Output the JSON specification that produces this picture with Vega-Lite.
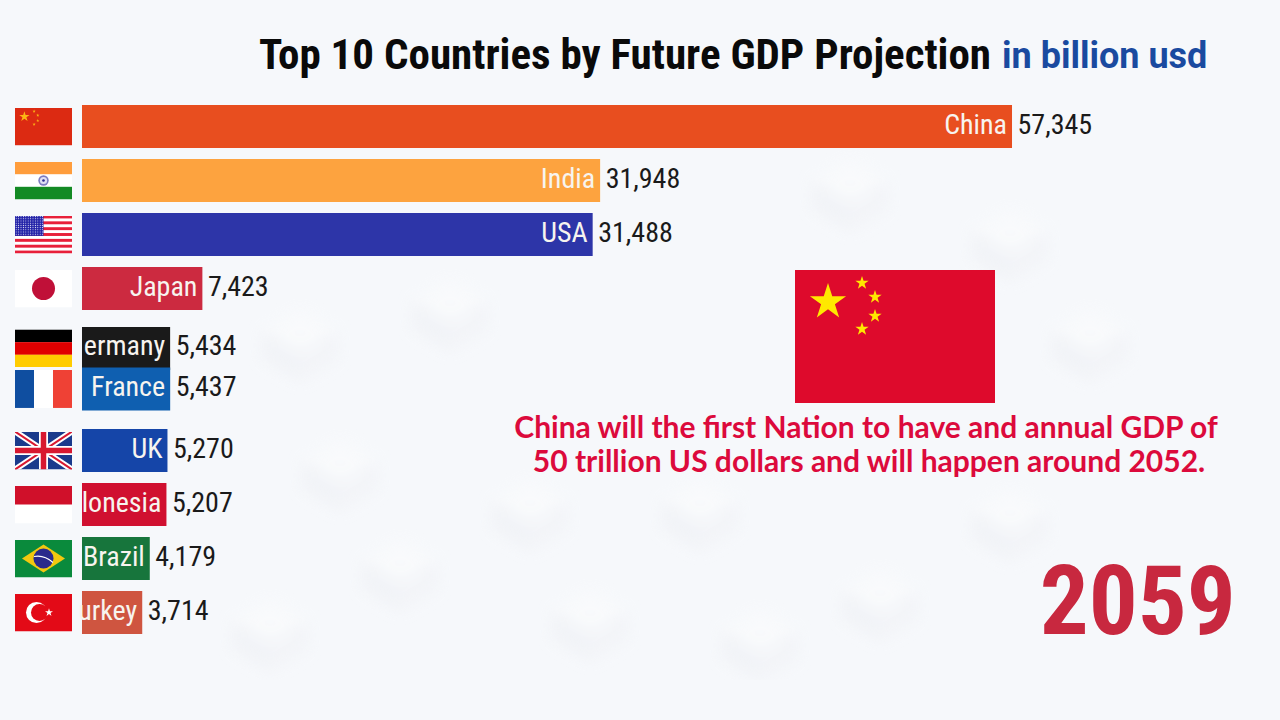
{"$schema":"https://vega.github.io/schema/vega-lite/v6.json","width":1280,"height":720,"padding":0,"autosize":{"type":"fit","contains":"padding"},"background":"#f6f8fb","config":{"view":{"stroke":null}},
"datasets":{"rows":[
{"country":"China","label":"China","value":57345,"rank":1,"flag":"data:image/svg+xml,%3Csvg xmlns='http://www.w3.org/2000/svg' width='57' height='38' viewBox='0 0 200 133'%3E%3Crect width='200' height='133' fill='%23dc2a12'/%3E%3Cg fill='%23fcb514'%3E%3Cpath transform='translate(33 32) scale(19)' d='M0-1 .2245-.309 .951-.309 .363.118 .588.809 0 .382-.588.809-.363.118-.951-.309-.2245-.309Z'/%3E%3Cpath transform='translate(67 13) scale(6)' d='M0-1 .2245-.309 .951-.309 .363.118 .588.809 0 .382-.588.809-.363.118-.951-.309-.2245-.309Z'/%3E%3Cpath transform='translate(80 27) scale(6)' d='M0-1 .2245-.309 .951-.309 .363.118 .588.809 0 .382-.588.809-.363.118-.951-.309-.2245-.309Z'/%3E%3Cpath transform='translate(80 46) scale(6)' d='M0-1 .2245-.309 .951-.309 .363.118 .588.809 0 .382-.588.809-.363.118-.951-.309-.2245-.309Z'/%3E%3Cpath transform='translate(67 59) scale(6)' d='M0-1 .2245-.309 .951-.309 .363.118 .588.809 0 .382-.588.809-.363.118-.951-.309-.2245-.309Z'/%3E%3C/g%3E%3C/svg%3E"},
{"country":"India","label":"India","value":31948,"rank":2,"flag":"data:image/svg+xml,%3Csvg xmlns='http://www.w3.org/2000/svg' width='57' height='38' viewBox='0 0 57 38'%3E%3Crect width='57' height='38' fill='%23fff'/%3E%3Crect width='57' height='12.7' fill='%23ff9d3c'/%3E%3Crect y='25.3' width='57' height='12.7' fill='%23138a24'/%3E%3Ccircle cx='28.5' cy='19' r='5.2' fill='%237c7cc0'/%3E%3Ccircle cx='28.5' cy='19' r='3.6' fill='%23dfe0f4'/%3E%3Ccircle cx='28.5' cy='19' r='1.3' fill='%232a2a90'/%3E%3C/svg%3E"},
{"country":"USA","label":"USA","value":31488,"rank":3,"flag":"data:image/svg+xml,%3Csvg xmlns='http://www.w3.org/2000/svg' width='57' height='38' viewBox='0 0 57 38'%3E%3Cdefs%3E%3Cpattern id='p' width='2.4' height='2.2' patternUnits='userSpaceOnUse'%3E%3Ccircle cx='1.2' cy='1.1' r='.55' fill='%23fff'/%3E%3C/pattern%3E%3C/defs%3E%3Crect width='57' height='38' fill='%23fff'/%3E%3Cg fill='%23e8203a'%3E%3Crect width='57' height='2.92'/%3E%3Crect y='5.85' width='57' height='2.92'/%3E%3Crect y='11.7' width='57' height='2.92'/%3E%3Crect y='17.54' width='57' height='2.92'/%3E%3Crect y='23.38' width='57' height='2.92'/%3E%3Crect y='29.23' width='57' height='2.92'/%3E%3Crect y='35.08' width='57' height='2.92'/%3E%3C/g%3E%3Crect width='28.5' height='20.4' fill='%232222a8'/%3E%3Crect width='28.5' height='20.4' fill='url(%23p)'/%3E%3C/svg%3E"},
{"country":"Japan","label":"Japan","value":7423,"rank":4,"flag":"data:image/svg+xml,%3Csvg xmlns='http://www.w3.org/2000/svg' width='57' height='38' viewBox='0 0 57 38'%3E%3Crect width='57' height='38' fill='%23fff'/%3E%3Ccircle cx='28.5' cy='19' r='11.5' fill='%23c01038'/%3E%3C/svg%3E"},
{"country":"Germany","label":"ermany","value":5434,"rank":5.11,"flag":"data:image/svg+xml,%3Csvg xmlns='http://www.w3.org/2000/svg' width='57' height='38' viewBox='0 0 57 38'%3E%3Crect width='57' height='12.7' fill='%23000'/%3E%3Crect y='12.7' width='57' height='12.7' fill='%23e00000'/%3E%3Crect y='25.3' width='57' height='12.7' fill='%23ffcc00'/%3E%3C/svg%3E"},
{"country":"France","label":"France","value":5437,"rank":5.86,"flag":"data:image/svg+xml,%3Csvg xmlns='http://www.w3.org/2000/svg' width='57' height='38' viewBox='0 0 57 38'%3E%3Crect width='57' height='38' fill='%23fff'/%3E%3Crect width='19' height='38' fill='%230f4ea0'/%3E%3Crect x='38' width='19' height='38' fill='%23ef4135'/%3E%3C/svg%3E"},
{"country":"UK","label":"UK","value":5270,"rank":7,"flag":"data:image/svg+xml,%3Csvg xmlns='http://www.w3.org/2000/svg' width='57' height='38' viewBox='0 0 57 38'%3E%3Crect width='57' height='38' fill='%231a3a8c'/%3E%3Cpath d='M0 0 57 38M57 0 0 38' stroke='%23fff' stroke-width='6'/%3E%3Cpath d='M0 0 57 38M57 0 0 38' stroke='%23d81830' stroke-width='2'/%3E%3Cpath d='M28.5 0V38M0 19H57' stroke='%23fff' stroke-width='9'/%3E%3Cpath d='M28.5 0V38M0 19H57' stroke='%23d81830' stroke-width='5.5'/%3E%3C/svg%3E"},
{"country":"Indonesia","label":"lonesia","value":5207,"rank":8,"flag":"data:image/svg+xml,%3Csvg xmlns='http://www.w3.org/2000/svg' width='57' height='38' viewBox='0 0 57 38'%3E%3Crect width='57' height='38' fill='%23fff'/%3E%3Crect width='57' height='19' fill='%23d0102a'/%3E%3C/svg%3E"},
{"country":"Brazil","label":"Brazil","value":4179,"rank":9,"flag":"data:image/svg+xml,%3Csvg xmlns='http://www.w3.org/2000/svg' width='57' height='38' viewBox='0 0 57 38'%3E%3Crect width='57' height='38' fill='%230a8a3c'/%3E%3Cpath d='M7 19 28.5 5 50 19 28.5 33Z' fill='%23f2c80f'/%3E%3Ccircle cx='28.5' cy='19' r='10' fill='%232a2a8c'/%3E%3Cpath d='M19 17Q29 15 38 23' stroke='%23fff' stroke-width='1.2' fill='none'/%3E%3C/svg%3E"},
{"country":"Turkey","label":"urkey","value":3714,"rank":10,"flag":"data:image/svg+xml,%3Csvg xmlns='http://www.w3.org/2000/svg' width='57' height='38' viewBox='0 0 57 38'%3E%3Crect width='57' height='38' fill='%23e30a17'/%3E%3Ccircle cx='21.5' cy='19' r='10.5' fill='%23fff'/%3E%3Ccircle cx='24.5' cy='19' r='8.5' fill='%23e30a17'/%3E%3Cpath transform='translate(34 19) scale(4.2)' fill='%23fff' d='M0-1 .2245-.309 .951-.309 .363.118 .588.809 0 .382-.588.809-.363.118-.951-.309-.2245-.309Z'/%3E%3C/svg%3E"}
],"bigflag":[{"name":"China","flag":"data:image/svg+xml,%3Csvg xmlns='http://www.w3.org/2000/svg' width='200' height='133' viewBox='0 0 200 133'%3E%3Crect width='200' height='133' fill='%23de0a2c'/%3E%3Cg fill='%23ffe800'%3E%3Cpath transform='translate(33 32) scale(19)' d='M0-1 .2245-.309 .951-.309 .363.118 .588.809 0 .382-.588.809-.363.118-.951-.309-.2245-.309Z'/%3E%3Cpath transform='translate(67 13) scale(7)' d='M0-1 .2245-.309 .951-.309 .363.118 .588.809 0 .382-.588.809-.363.118-.951-.309-.2245-.309Z'/%3E%3Cpath transform='translate(80 27) scale(7)' d='M0-1 .2245-.309 .951-.309 .363.118 .588.809 0 .382-.588.809-.363.118-.951-.309-.2245-.309Z'/%3E%3Cpath transform='translate(80 46) scale(7)' d='M0-1 .2245-.309 .951-.309 .363.118 .588.809 0 .382-.588.809-.363.118-.951-.309-.2245-.309Z'/%3E%3Cpath transform='translate(67 59) scale(7)' d='M0-1 .2245-.309 .951-.309 .363.118 .588.809 0 .382-.588.809-.363.118-.951-.309-.2245-.309Z'/%3E%3C/g%3E%3C/svg%3E"}],
"backdrop":[{"name":"isometric blocks","img":"data:image/svg+xml,%3Csvg xmlns='http://www.w3.org/2000/svg' xmlns:xlink='http://www.w3.org/1999/xlink' width='1200' height='640' viewBox='40 40 1200 640'%3E%3Cdefs%3E%3Cfilter id='f'%3E%3CfeGaussianBlur stdDeviation='7'/%3E%3C/filter%3E%3Cg id='b'%3E%3Cpath d='M0-22 38 0 0 22-38 0Z' fill='%23fbfcfd'/%3E%3Cpath d='M-38 0 0 22V52L-38 30Z' fill='%23eef0f4'/%3E%3Cpath d='M38 0 0 22V52L38 30Z' fill='%23f1f2f6'/%3E%3C/g%3E%3C/defs%3E%3Cg filter='url(%23f)'%3E%3Cuse xlink:href='%23b' x='300' y='330'/%3E%3Cuse xlink:href='%23b' x='340' y='460'/%3E%3Cuse xlink:href='%23b' x='270' y='620'/%3E%3Cuse xlink:href='%23b' x='400' y='560'/%3E%3Cuse xlink:href='%23b' x='530' y='500'/%3E%3Cuse xlink:href='%23b' x='700' y='500'/%3E%3Cuse xlink:href='%23b' x='1010' y='510'/%3E%3Cuse xlink:href='%23b' x='1090' y='330'/%3E%3Cuse xlink:href='%23b' x='850' y='180'/%3E%3Cuse xlink:href='%23b' x='1010' y='230'/%3E%3Cuse xlink:href='%23b' x='590' y='610'/%3E%3Cuse xlink:href='%23b' x='760' y='630'/%3E%3Cuse xlink:href='%23b' x='880' y='590'/%3E%3Cuse xlink:href='%23b' x='450' y='300'/%3E%3C/g%3E%3C/svg%3E"}]},
"data":{"name":"rows"},
"layer":[
{"data":{"name":"backdrop"},"mark":{"type":"image","width":1200,"height":640,"align":"center","baseline":"middle","aspect":false,"opacity":0.55},"encoding":{"x":{"datum":34406,"type":"quantitative","scale":{"domain":[-5056,73869],"zero":false,"nice":false},"axis":null},"y":{"datum":5.324,"type":"quantitative","scale":{"domain":[-1.3426,11.9907],"reverse":true,"zero":false,"nice":false,"padding":0},"axis":null},"url":{"field":"img"}}},
{"mark":{"type":"bar","orient":"horizontal","size":43},"encoding":{"x":{"field":"value","type":"quantitative","scale":{"domain":[-5056,73869],"zero":false,"nice":false},"axis":null},"y":{"field":"rank","type":"quantitative","scale":{"domain":[-1.3426,11.9907],"reverse":true,"zero":false,"nice":false,"padding":0},"axis":null},"color":{"field":"country","type":"nominal","legend":null,"sort":null,"scale":{"domain":["China","India","USA","Japan","Germany","France","UK","Indonesia","Brazil","Turkey"],"range":["#e84e1f","#fda33f","#2d35a8","#cc2a40","#1a1a1a","#0f5fb0","#1545a8","#d01030","#17753c","#cf5540"]}},"order":{"field":"rank"}}},
{"mark":{"type":"image","width":57,"height":38,"align":"center","baseline":"middle","aspect":false},"encoding":{"x":{"datum":-2374,"type":"quantitative","axis":null},"y":{"field":"rank","type":"quantitative","axis":null},"url":{"field":"flag"}}},
{"mark":{"type":"text","align":"right","baseline":"middle","dx":-5,"dy":-1,"font":"Roboto Condensed","fontSize":28,"fill":"#f7f4ef"},"encoding":{"x":{"field":"value","type":"quantitative","axis":null},"y":{"field":"rank","type":"quantitative","axis":null},"text":{"field":"label"}}},
{"mark":{"type":"text","align":"left","baseline":"middle","dx":5.5,"dy":-1,"font":"Roboto Condensed","fontSize":28,"fill":"#1a1a1a"},"encoding":{"x":{"field":"value","type":"quantitative","axis":null},"y":{"field":"rank","type":"quantitative","axis":null},"text":{"field":"value","format":","}}},
{"data":{"name":"bigflag"},"mark":{"type":"image","width":200,"height":133,"align":"center","baseline":"middle","aspect":false},"encoding":{"x":{"datum":50130,"type":"quantitative","axis":null},"y":{"datum":4.889,"type":"quantitative","axis":null},"url":{"field":"flag"}}},
{"data":{"values":[{"t":"Top 10 Countries by Future GDP Projection"}]},"mark":{"type":"text","align":"left","baseline":"alphabetic","font":"Roboto Condensed","fontWeight":"bold","fontSize":43,"fill":"#0a0a0a"},"encoding":{"x":{"datum":10914,"type":"quantitative","axis":null},"y":{"datum":-0.065,"type":"quantitative","axis":null},"text":{"field":"t"}}},
{"data":{"values":[{"t":"in billion usd"}]},"mark":{"type":"text","align":"left","baseline":"alphabetic","font":"Roboto","fontWeight":"bold","fontSize":36,"fill":"#1a4aa0"},"encoding":{"x":{"datum":56727,"type":"quantitative","axis":null},"y":{"datum":-0.083,"type":"quantitative","axis":null},"text":{"field":"t"}}},
{"data":{"values":[{"t":"China will the first Nation to have and annual GDP of"}]},"mark":{"type":"text","align":"center","baseline":"alphabetic","font":"Lato","fontWeight":"bold","fontSize":30,"fill":"#dc0a3c"},"encoding":{"x":{"datum":48342,"type":"quantitative","axis":null},"y":{"datum":6.77,"type":"quantitative","axis":null},"text":{"field":"t"}}},
{"data":{"values":[{"t":"50 trillion US dollars and will happen around 2052."}]},"mark":{"type":"text","align":"center","baseline":"alphabetic","font":"Lato","fontWeight":"bold","fontSize":30,"fill":"#dc0a3c"},"encoding":{"x":{"datum":48527,"type":"quantitative","axis":null},"y":{"datum":7.4,"type":"quantitative","axis":null},"text":{"field":"t"}}},
{"data":{"values":[{"t":"2059"}]},"mark":{"type":"text","align":"right","baseline":"alphabetic","font":"Roboto Condensed","fontWeight":"bold","fontSize":97,"fill":"#c8283f"},"encoding":{"x":{"datum":71150,"type":"quantitative","axis":null},"y":{"datum":10.398,"type":"quantitative","axis":null},"text":{"field":"t"}}}
]}
